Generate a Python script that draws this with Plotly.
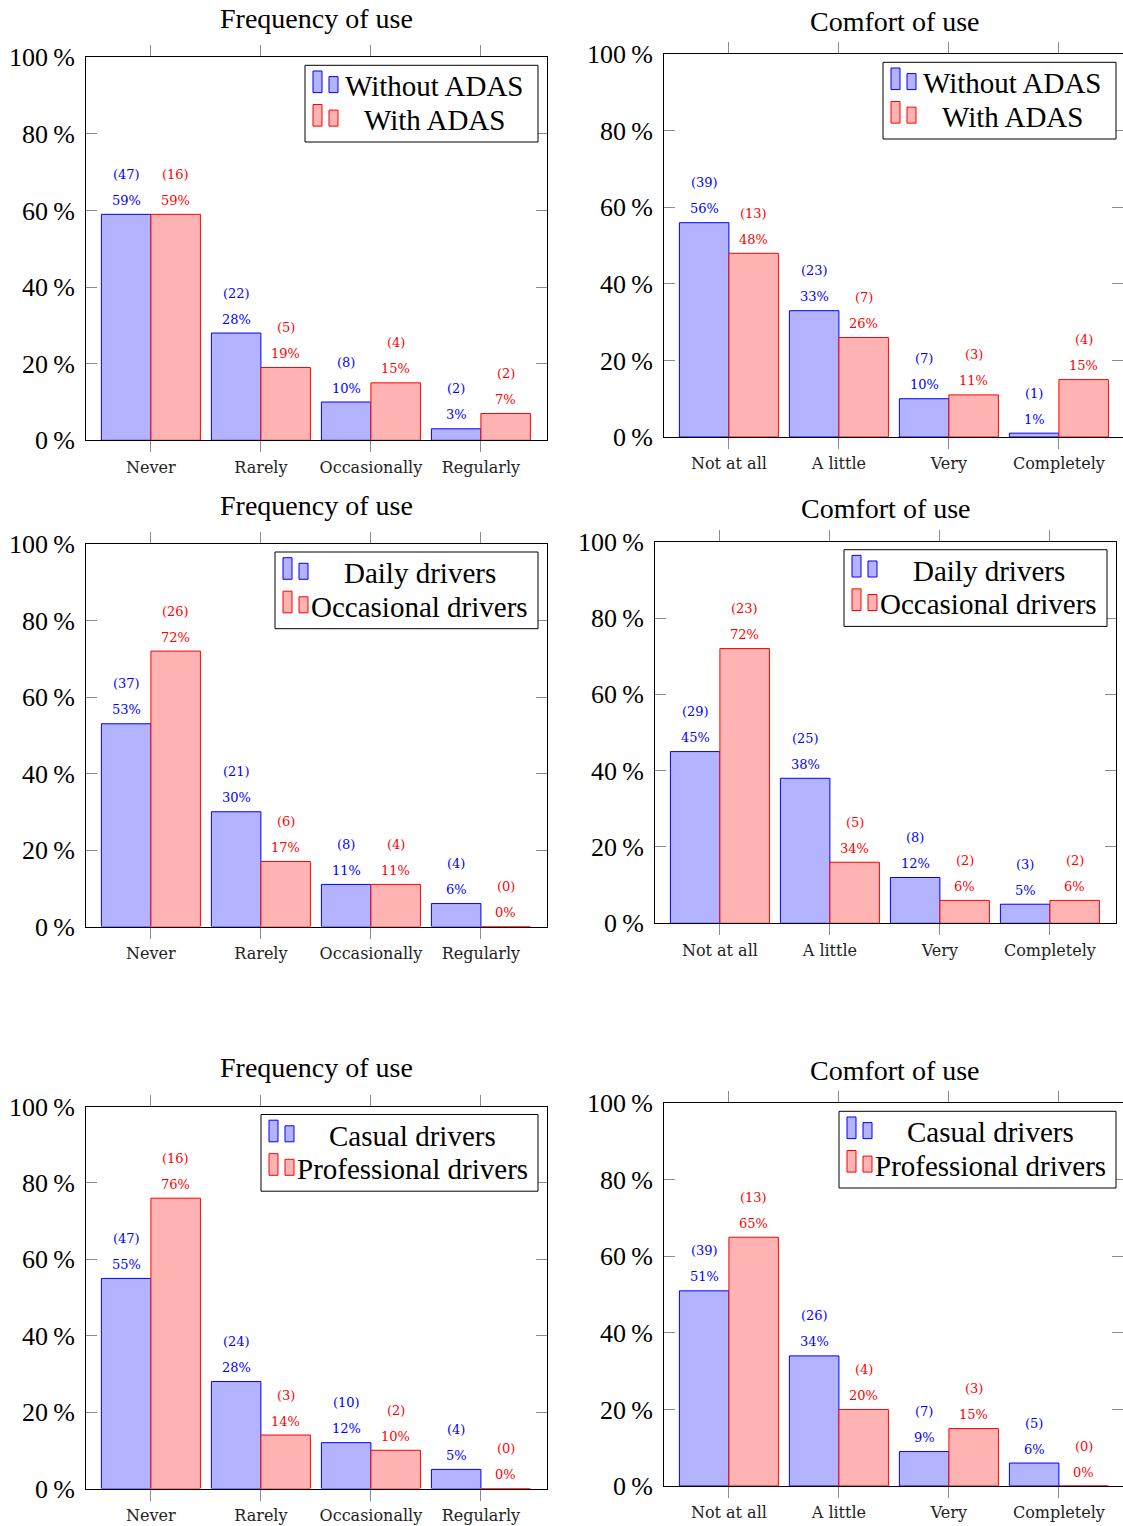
import plotly.graph_objects as go

W, H = 1123, 1526

# ---------------- data ----------------
freq_categories = ["Never", "Rarely", "Occasionally", "Regularly"]
comfort_categories = ["Not at all", "A little", "Very", "Completely"]

y_tick_values = [0, 20, 40, 60, 80, 100]
y_tick_labels = ["0\u2009%", "20\u2009%", "40\u2009%", "60\u2009%", "80\u2009%", "100\u2009%"]

freq_title = "Frequency of use"
comfort_title = "Comfort of use"

adas_series = ["Without ADAS", "With ADAS"]
daily_series = ["Daily drivers", "Occasional drivers"]
casual_series = ["Casual drivers", "Professional drivers"]

# Panel 1: frequency, without / with ADAS
p1_blue_values = [59, 28, 10, 3]
p1_blue_pct = ["59%", "28%", "10%", "3%"]
p1_blue_counts = ["(47)", "(22)", "(8)", "(2)"]
p1_red_values = [59, 19, 15, 7]
p1_red_pct = ["59%", "19%", "15%", "7%"]
p1_red_counts = ["(16)", "(5)", "(4)", "(2)"]

# Panel 2: comfort, without / with ADAS
p2_blue_values = [56, 33, 10, 1]
p2_blue_pct = ["56%", "33%", "10%", "1%"]
p2_blue_counts = ["(39)", "(23)", "(7)", "(1)"]
p2_red_values = [48, 26, 11, 15]
p2_red_pct = ["48%", "26%", "11%", "15%"]
p2_red_counts = ["(13)", "(7)", "(3)", "(4)"]

# Panel 3: frequency, daily / occasional drivers
p3_blue_values = [53, 30, 11, 6]
p3_blue_pct = ["53%", "30%", "11%", "6%"]
p3_blue_counts = ["(37)", "(21)", "(8)", "(4)"]
p3_red_values = [72, 17, 11, 0]
p3_red_pct = ["72%", "17%", "11%", "0%"]
p3_red_counts = ["(26)", "(6)", "(4)", "(0)"]

# Panel 4: comfort, daily / occasional drivers
p4_blue_values = [45, 38, 12, 5]
p4_blue_pct = ["45%", "38%", "12%", "5%"]
p4_blue_counts = ["(29)", "(25)", "(8)", "(3)"]
p4_red_values = [72, 16, 6, 6]
p4_red_pct = ["72%", "34%", "6%", "6%"]
p4_red_counts = ["(23)", "(5)", "(2)", "(2)"]

# Panel 5: frequency, casual / professional drivers
p5_blue_values = [55, 28, 12, 5]
p5_blue_pct = ["55%", "28%", "12%", "5%"]
p5_blue_counts = ["(47)", "(24)", "(10)", "(4)"]
p5_red_values = [76, 14, 10, 0]
p5_red_pct = ["76%", "14%", "10%", "0%"]
p5_red_counts = ["(16)", "(3)", "(2)", "(0)"]

# Panel 6: comfort, casual / professional drivers
p6_blue_values = [51, 34, 9, 6]
p6_blue_pct = ["51%", "34%", "9%", "6%"]
p6_blue_counts = ["(39)", "(26)", "(7)", "(5)"]
p6_red_values = [65, 20, 15, 0]
p6_red_pct = ["65%", "20%", "15%", "0%"]
p6_red_counts = ["(13)", "(4)", "(3)", "(0)"]

# ---------------- layout geometry (pixels) ----------------
panels = [
    dict(title=freq_title, cats=freq_categories, names=adas_series,
         bv=p1_blue_values, bp=p1_blue_pct, bc=p1_blue_counts,
         rv=p1_red_values, rp=p1_red_pct, rc=p1_red_counts,
         left=86, top=57.3, bottom=440.3, title_off=38.7, leg_w=233),
    dict(title=comfort_title, cats=comfort_categories, names=adas_series,
         bv=p2_blue_values, bp=p2_blue_pct, bc=p2_blue_counts,
         rv=p2_red_values, rp=p2_red_pct, rc=p2_red_counts,
         left=664, top=54.3, bottom=437, title_off=33.3, leg_w=233),
    dict(title=freq_title, cats=freq_categories, names=daily_series,
         bv=p3_blue_values, bp=p3_blue_pct, bc=p3_blue_counts,
         rv=p3_red_values, rp=p3_red_pct, rc=p3_red_counts,
         left=86, top=544, bottom=926.5, title_off=38.7, leg_w=263),
    dict(title=comfort_title, cats=comfort_categories, names=daily_series,
         bv=p4_blue_values, bp=p4_blue_pct, bc=p4_blue_counts,
         rv=p4_red_values, rp=p4_red_pct, rc=p4_red_counts,
         left=655, top=541.7, bottom=923.3, title_off=33.3, leg_w=263),
    dict(title=freq_title, cats=freq_categories, names=casual_series,
         bv=p5_blue_values, bp=p5_blue_pct, bc=p5_blue_counts,
         rv=p5_red_values, rp=p5_red_pct, rc=p5_red_counts,
         left=86, top=1106.5, bottom=1488.5, title_off=38.7, leg_w=277),
    dict(title=comfort_title, cats=comfort_categories, names=casual_series,
         bv=p6_blue_values, bp=p6_blue_pct, bc=p6_blue_counts,
         rv=p6_red_values, rp=p6_red_pct, rc=p6_red_counts,
         left=664, top=1103.3, bottom=1486, title_off=33.3, leg_w=277),
]

FRAME_W = 461
UNIT = 110.0
X_LO = -0.59

BLUE_FILL = "rgb(179,179,255)"
RED_FILL = "rgb(255,179,179)"
BLUE = "rgb(0,0,255)"
RED = "rgb(255,0,0)"
TICK_COL = "rgb(140,140,140)"
SERIF = "Liberation Serif"
SMALL = "DejaVu Serif"


def px_x(p):
    return p / W


def px_y(p):
    return 1 - p / H


fig = go.Figure()
shapes = []
annotations = []
layout_axes = {}

for k, pn in enumerate(panels, start=1):
    xa = "x" if k == 1 else f"x{k}"
    ya = "y" if k == 1 else f"y{k}"
    left = pn["left"]
    right = min(left + FRAME_W, W)
    x_hi = X_LO + (right - left) / UNIT

    fig.add_trace(go.Bar(
        x=pn["cats"], y=pn["bv"], name=pn["names"][0],
        marker=dict(color=BLUE_FILL, line=dict(color=BLUE, width=1)),
        xaxis=xa, yaxis=ya, showlegend=False, offsetgroup="a",
    ))
    fig.add_trace(go.Bar(
        x=pn["cats"], y=pn["rv"], name=pn["names"][1],
        marker=dict(color=RED_FILL, line=dict(color=RED, width=1)),
        xaxis=xa, yaxis=ya, showlegend=False, offsetgroup="b",
    ))

    axis_x_name = "xaxis" if k == 1 else f"xaxis{k}"
    axis_y_name = "yaxis" if k == 1 else f"yaxis{k}"
    layout_axes[axis_x_name] = dict(
        domain=[px_x(left), px_x(right)], anchor=ya, type="category",
        range=[X_LO, x_hi], showline=True, linecolor="black", linewidth=1,
        mirror="ticks", ticks="outside", ticklen=11, tickcolor=TICK_COL,
        tickwidth=1, showgrid=False, zeroline=False, automargin=False,
        tickfont=dict(family=SMALL, size=16, color="#222"),
        ticklabelstandoff=1, fixedrange=True,
    )
    layout_axes[axis_y_name] = dict(
        domain=[px_y(pn["bottom"]), px_y(pn["top"])], anchor=xa,
        range=[0, 100], tickmode="array", tickvals=y_tick_values,
        ticktext=y_tick_labels, showline=True, linecolor="black",
        linewidth=1, mirror="ticks", ticks="inside", ticklen=11,
        tickcolor=TICK_COL, tickwidth=1, showgrid=False, zeroline=False,
        automargin=False,
        tickfont=dict(family=SERIF, size=26, color="black"),
        ticklabelstandoff=5, fixedrange=True,
    )

    # value labels above bars
    for i in range(len(pn["cats"])):
        for off, vals, pct, cnt, col in (
            (-0.225, pn["bv"], pn["bp"], pn["bc"], BLUE),
            (0.225, pn["rv"], pn["rp"], pn["rc"], RED),
        ):
            annotations.append(dict(
                x=i + off, y=vals[i], xref=xa, yref=ya, text=pct[i],
                showarrow=False, yshift=14, yanchor="middle",
                font=dict(family=SMALL, size=13, color=col)))
            annotations.append(dict(
                x=i + off, y=vals[i], xref=xa, yref=ya, text=cnt[i],
                showarrow=False, yshift=40, yanchor="middle",
                font=dict(family=SMALL, size=13, color=col)))

    # title
    annotations.append(dict(
        x=px_x(left + FRAME_W / 2), y=px_y(pn["top"] - pn["title_off"]),
        xref="paper", yref="paper", text=pn["title"], showarrow=False,
        xanchor="center", yanchor="middle",
        font=dict(family=SERIF, size=28, color="black")))

    # legend box
    R = left + FRAME_W - 9
    L = R - pn["leg_w"]
    T = pn["top"] + 8
    B = T + 76.7
    shapes.append(dict(type="rect", xref="paper", yref="paper",
                       x0=px_x(L), x1=px_x(R), y0=px_y(B), y1=px_y(T),
                       line=dict(color="black", width=1), fillcolor="white",
                       layer="above"))
    for row, (fill, col) in enumerate(((BLUE_FILL, BLUE), (RED_FILL, RED))):
        dy = row * 33.5
        for (ix0, ix1, iy0) in ((8, 17, 5.7), (24, 33, 11.3)):
            shapes.append(dict(type="rect", xref="paper", yref="paper",
                               x0=px_x(L + ix0), x1=px_x(L + ix1),
                               y0=px_y(T + 27.3 + dy), y1=px_y(T + iy0 + dy),
                               line=dict(color=col, width=1), fillcolor=fill,
                               layer="above"))
        annotations.append(dict(
            x=px_x((L + 38 + R - 12) / 2), y=px_y(T + 21 + dy),
            xref="paper", yref="paper", text=pn["names"][row],
            showarrow=False, xanchor="center", yanchor="middle",
            font=dict(family=SERIF, size=29, color="black")))

fig.update_layout(
    width=W, height=H, margin=dict(l=0, r=0, t=0, b=0, autoexpand=False),
    paper_bgcolor="white", plot_bgcolor="white",
    barmode="group", bargap=0.1, bargroupgap=0,
    shapes=shapes, annotations=annotations, showlegend=False,
    **layout_axes,
)

fig.write_html("out.html", config={"displayModeBar": False},
               post_script="document.body.style.margin='0';document.body.style.overflow='hidden';")
